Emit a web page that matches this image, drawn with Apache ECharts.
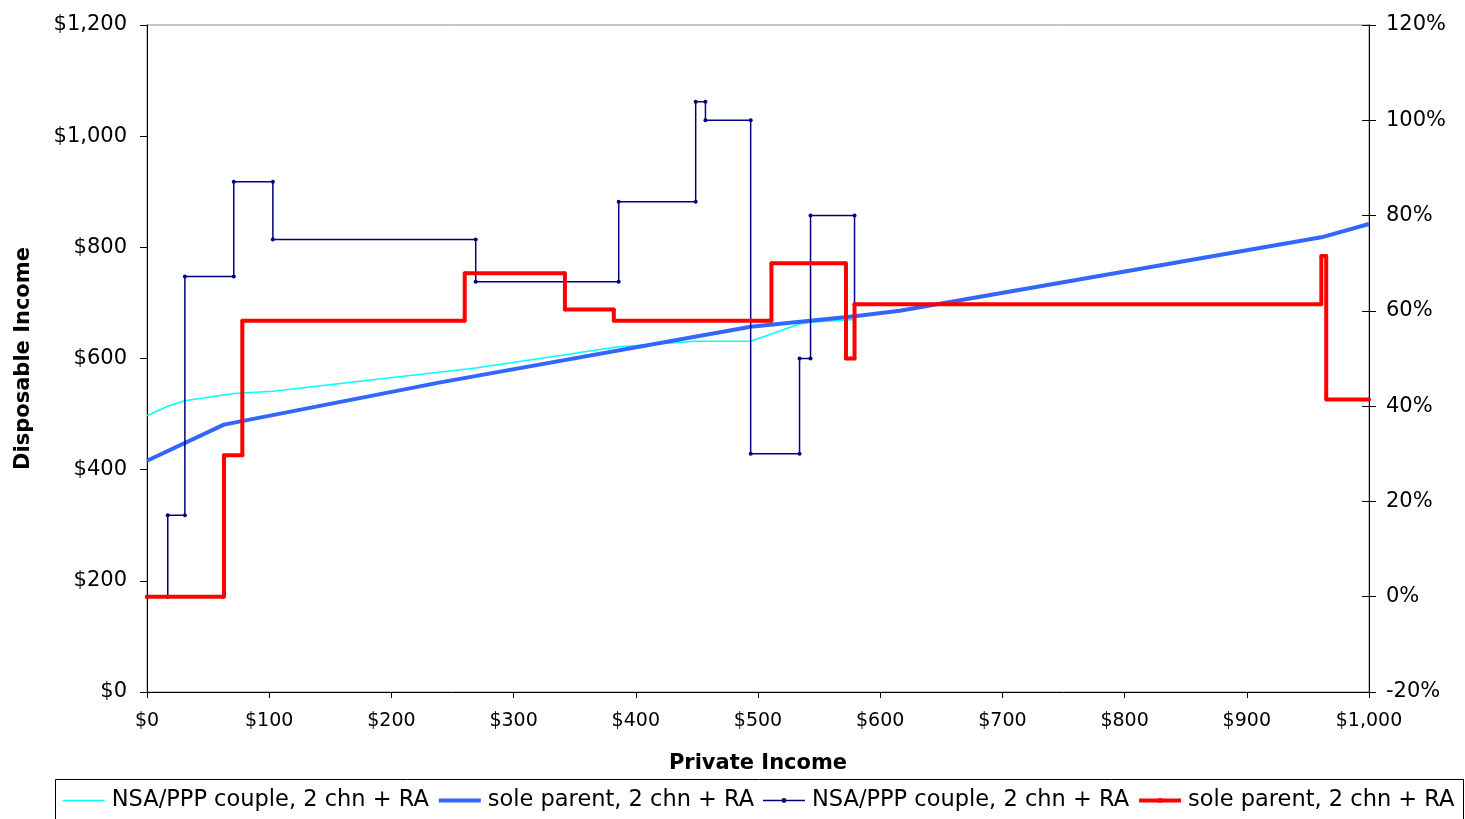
<!DOCTYPE html>
<html>
<head>
<meta charset="utf-8">
<title>Disposable income and effective marginal tax rates</title>
<script src="https://cdn.jsdelivr.net/npm/echarts@6/dist/echarts.min.js"></script>
<style>
  html, body { margin: 0; padding: 0; background: #ffffff; }
  #chart { width: 1465px; height: 819px; }
</style>
</head>
<body>
<div id="chart"></div>
<script>
// Private income ($/week) on the x axis; disposable income on the left axis,
// effective marginal tax rate (%) on the right axis.
const seriesNames = [
  'NSA/PPP couple, 2 chn + RA',
  'sole parent, 2 chn + RA',
  'NSA/PPP couple, 2 chn + RA',
  'sole parent, 2 chn + RA'
];

// Disposable income, couple on NSA/PPP: [private income, disposable income]
const coupleIncome = [
  [0, 497], [17, 514], [31, 524], [71, 537], [103, 541], [269, 583],
  [386, 621], [449, 631], [457, 631], [494, 631], [534, 662], [543, 665],
  [579, 670]
];

// Disposable income, sole parent: [private income, disposable income]
const soleIncome = [
  [0, 416], [63, 481], [240, 557], [494, 657], [579, 676], [616, 686],
  [961, 818], [1000, 842]
];

// Effective marginal tax rate, couple: [private income, rate %]
const coupleEmtr = [
  [0, 0], [17, 0], [17, 17.1], [31, 17.1], [31, 67.2], [71, 67.2],
  [71, 87.1], [103, 87.1], [103, 75], [269, 75], [269, 66.1], [386, 66.1],
  [386, 82.9], [449, 82.9], [449, 103.9], [457, 103.9], [457, 100], [494, 100],
  [494, 30], [534, 30], [534, 50], [543, 50], [543, 80], [579, 80],
  [579, 61.4]
];

// Effective marginal tax rate, sole parent: [private income, rate %]
const soleEmtr = [
  [0, 0], [63, 0], [63, 29.7], [78, 29.7], [78, 57.9], [260, 57.9],
  [260, 67.9], [342, 67.9], [342, 60.3], [382, 60.3], [382, 57.9], [511, 57.9],
  [511, 70], [572, 70], [572, 50], [579, 50], [579, 61.4], [961, 61.4],
  [961, 71.5], [965, 71.5], [965, 41.4], [1000, 41.4]
];

const xRange = { min: 0, max: 1000, interval: 100 };
const dollarRange = { min: 0, max: 1200, interval: 200 };
const rateRange = { min: -20, max: 120, interval: 20 };

const FONT = 'DejaVu Sans';
const dollars = v => '$' + Number(v).toLocaleString('en-US');

const chart = echarts.init(document.getElementById('chart'), null, { renderer: 'canvas' });

const option = {
  backgroundColor: '#ffffff',
  animation: false,
  grid: {
    left: 147, right: 96, top: 25, bottom: 127,
    show: true, borderColor: '#8c8c8c', borderWidth: 1, backgroundColor: 'transparent'
  },
  graphic: [{
    type: 'rect',
    shape: { x: 55.5, y: 779.5, width: 1408, height: 60 },
    style: { fill: '#ffffff', stroke: '#000000', lineWidth: 1 },
    z: 0
  }],
  legend: {
    left: 62, top: 789, width: 1400,
    padding: 0,
    itemWidth: 42, itemHeight: 6, itemGap: 8,
    textStyle: { fontFamily: FONT, fontSize: 22.5, color: '#000000', padding: [0, 0, 0, 2] },
    z: 5,
    data: [
      { name: 'couple-income', itemStyle: { opacity: 0 }, lineStyle: { width: 1.5 } },
      { name: 'sole-income', itemStyle: { opacity: 0 }, lineStyle: { width: 4 } },
      { name: 'couple-emtr', lineStyle: { width: 1.5 } },
      { name: 'sole-emtr', lineStyle: { width: 4 } }
    ],
    formatter: function (name) {
      const idx = ['couple-income', 'sole-income', 'couple-emtr', 'sole-emtr'].indexOf(name);
      return seriesNames[idx];
    }
  },
  xAxis: {
    type: 'value',
    min: xRange.min, max: xRange.max, interval: xRange.interval,
    name: 'Private Income',
    nameLocation: 'middle', nameGap: 61,
    nameTextStyle: { fontFamily: FONT, fontSize: 21, fontWeight: 'bold', color: '#000000' },
    axisLine: { show: true, onZero: false, lineStyle: { color: '#000000', width: 1 } },
    axisTick: { show: true, length: 6, lineStyle: { color: '#000000' } },
    axisLabel: { fontFamily: FONT, fontSize: 19, color: '#000000', margin: 20, formatter: dollars },
    splitLine: { show: false }
  },
  yAxis: [
    {
      type: 'value', position: 'left',
      min: dollarRange.min, max: dollarRange.max, interval: dollarRange.interval,
      name: 'Disposable Income',
      nameLocation: 'middle', nameGap: 113, nameRotate: 90,
      nameTextStyle: { fontFamily: FONT, fontSize: 21, fontWeight: 'bold', color: '#000000' },
      axisLine: { show: true, lineStyle: { color: '#000000', width: 1 } },
      axisTick: { show: true, length: 7, lineStyle: { color: '#000000' } },
      axisLabel: { fontFamily: FONT, fontSize: 21, color: '#000000', margin: 20, formatter: dollars },
      splitLine: { show: false }
    },
    {
      type: 'value', position: 'right',
      min: rateRange.min, max: rateRange.max, interval: rateRange.interval,
      axisLine: { show: true, lineStyle: { color: '#000000', width: 1 } },
      axisTick: { show: true, length: 7, lineStyle: { color: '#000000' } },
      axisLabel: { fontFamily: FONT, fontSize: 21, color: '#000000', margin: 17, formatter: '{value}%' },
      splitLine: { show: false }
    },
    {
      // inner half of the right-hand tick marks
      type: 'value', position: 'right',
      min: rateRange.min, max: rateRange.max, interval: rateRange.interval,
      axisLine: { show: true, lineStyle: { color: '#000000', width: 1 } },
      axisTick: { show: true, inside: true, length: 7, lineStyle: { color: '#000000' } },
      axisLabel: { show: false },
      splitLine: { show: false }
    }
  ],
  series: [
    {
      name: 'couple-income', type: 'line', yAxisIndex: 0,
      data: coupleIncome,
      symbol: 'none',
      lineStyle: { color: '#00ffff', width: 1.5 },
      itemStyle: { color: '#00ffff' },
      z: 2
    },
    {
      name: 'sole-income', type: 'line', yAxisIndex: 0,
      data: soleIncome,
      symbol: 'none',
      lineStyle: { color: '#3366ff', width: 4 },
      itemStyle: { color: '#3366ff' },
      z: 3
    },
    {
      name: 'couple-emtr', type: 'line', yAxisIndex: 1,
      data: coupleEmtr,
      symbol: 'circle', symbolSize: 4, showAllSymbol: true,
      lineStyle: { color: '#000080', width: 1.5 },
      itemStyle: { color: '#000080' },
      z: 4
    },
    {
      name: 'sole-emtr', type: 'line', yAxisIndex: 1,
      data: soleEmtr,
      symbol: 'circle', symbolSize: 4, showAllSymbol: true,
      lineStyle: { color: '#ff0000', width: 4 },
      itemStyle: { color: '#ff0000' },
      z: 5
    }
  ]
};

chart.setOption(option);
</script>
</body>
</html>
